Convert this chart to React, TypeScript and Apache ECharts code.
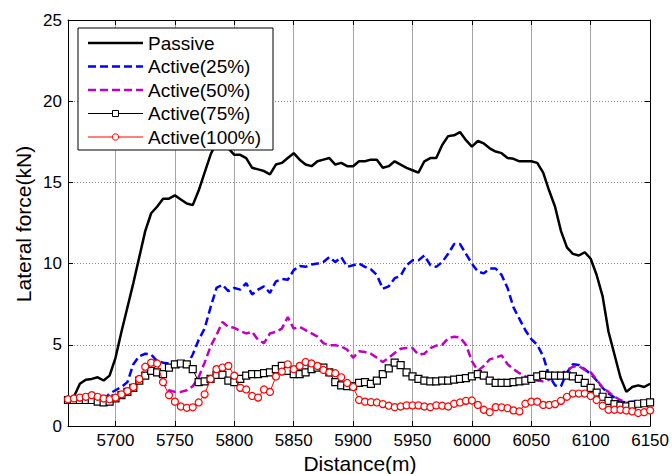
import React, { useEffect, useRef } from "react";
import * as echarts from "echarts";

const distance = [
  5660, 5665, 5670, 5675, 5680, 5685, 5690, 5695, 5700, 5705,
  5710, 5715, 5720, 5725, 5730, 5735, 5740, 5745, 5750, 5755,
  5760, 5765, 5770, 5775, 5780, 5785, 5790, 5795, 5800, 5805,
  5810, 5815, 5820, 5825, 5830, 5835, 5840, 5845, 5850, 5855,
  5860, 5865, 5870, 5875, 5880, 5885, 5890, 5895, 5900, 5905,
  5910, 5915, 5920, 5925, 5930, 5935, 5940, 5945, 5950, 5955,
  5960, 5965, 5970, 5975, 5980, 5985, 5990, 5995, 6000, 6005,
  6010, 6015, 6020, 6025, 6030, 6035, 6040, 6045, 6050, 6055,
  6060, 6065, 6070, 6075, 6080, 6085, 6090, 6095, 6100, 6105,
  6110, 6115, 6120, 6125, 6130, 6135, 6140, 6145, 6150,
];

const passive = [
  1.6, 1.8, 2.6, 2.85, 2.9, 3.0, 2.8, 3.1, 4.2, 5.8,
  7.3, 8.8, 10.4, 12.0, 13.1, 13.5, 14.0, 14.0, 14.2, 13.95,
  13.7, 13.6, 14.5, 15.6, 16.7, 17.5, 17.8, 17.1, 16.7, 16.7,
  16.5, 15.9, 15.8, 15.7, 15.5, 16.1, 16.2, 16.5, 16.8, 16.4,
  16.1, 16.0, 16.3, 16.4, 16.5, 16.1, 16.2, 16.0, 16.0, 16.3,
  16.3, 16.4, 16.4, 15.9, 16.0, 16.3, 16.1, 15.9, 15.75, 15.6,
  16.3, 16.5, 16.5, 17.3, 17.85, 17.9, 18.1, 17.6, 17.2, 17.55,
  17.4, 17.1, 16.9, 16.8, 16.5, 16.45, 16.3, 16.3, 16.3, 16.2,
  15.6, 14.5, 13.5, 12.0, 11.0, 10.6, 10.5, 10.7, 10.3, 9.3,
  8.0, 5.8, 4.4, 3.0, 2.1, 2.4, 2.5, 2.4, 2.6,
];

const active25 = [
  1.6, 1.65, 1.7, 1.7, 1.75, 1.65, 1.6, 2.0, 2.2, 2.4,
  2.7, 3.8, 4.3, 4.45, 4.4, 4.0, 3.9, 3.85, 3.7, 3.6,
  3.7, 4.4, 5.3, 6.0, 7.3, 8.5, 8.7, 8.3, 8.5, 8.4,
  8.8, 8.1, 8.4, 8.6, 8.2, 8.9, 9.05, 9.0, 9.6, 9.85,
  9.8, 9.95, 10.0, 10.1, 10.4, 10.1, 10.4, 9.8, 9.9, 10.0,
  9.8, 9.65, 9.3, 8.45, 8.6, 9.1, 9.25, 9.9, 10.2, 10.2,
  10.5, 9.9, 9.8, 10.1, 10.6, 11.2, 11.2, 10.6, 10.0, 9.5,
  9.4, 9.7, 9.7, 9.3, 8.5, 7.3, 6.6, 5.9, 5.35, 5.0,
  4.3, 3.1, 2.5, 2.45, 3.3, 3.8, 3.75, 3.5, 3.2, 2.8,
  2.35, 2.0, 1.75, 1.5, 1.45, 1.5, 1.5, 1.5, 1.5,
];

const active50 = [
  1.6, 1.65, 1.7, 1.7, 1.75, 1.65, 1.6, 1.6, 1.75, 1.75,
  2.0, 2.35, 2.8, 3.1, 3.3, 3.3, 2.7, 2.2, 2.1, 2.1,
  2.2, 2.45, 3.0, 3.9, 4.9, 5.6, 6.4, 6.1, 6.05, 5.85,
  5.7, 5.8, 5.3, 5.1, 5.7, 5.8, 6.0, 6.7, 6.0, 6.1,
  5.9, 5.7, 5.5, 5.1, 4.97, 4.97, 4.9, 4.7, 4.2, 4.6,
  4.55, 4.45, 4.2, 3.94, 4.2, 4.5, 4.75, 4.8, 4.8, 4.4,
  4.45, 4.8, 4.95, 5.0, 5.4, 5.5, 5.45, 5.0, 4.0, 3.4,
  3.7, 4.1, 4.2, 4.35, 3.8, 3.5, 3.25, 3.05, 2.9, 2.8,
  2.75, 2.85, 3.0, 3.2, 3.45, 3.65, 3.7, 3.45, 3.3, 2.85,
  2.35, 2.1, 1.8, 1.6, 1.45, 1.4, 1.45, 1.45, 1.5,
];

const active75 = [
  1.6, 1.6, 1.6, 1.6, 1.6, 1.5, 1.45, 1.5, 1.7, 1.9,
  2.1, 2.35, 2.8, 3.1, 3.4, 3.3, 3.2, 3.6, 3.8, 3.85,
  3.8, 3.5, 2.7, 2.75, 2.9, 3.15, 3.15, 2.8, 2.7, 2.9,
  3.1, 3.2, 3.2, 3.25, 3.3, 3.5, 3.7, 3.4, 3.2, 3.2,
  3.3, 3.5, 3.6, 3.6, 3.3, 2.7, 2.5, 2.45, 2.45, 2.65,
  2.7, 2.6, 2.8, 3.2, 3.55, 3.9, 3.75, 3.3, 3.05, 2.9,
  2.8, 2.75, 2.75, 2.8, 2.8, 2.85, 2.9, 2.95, 3.05, 3.2,
  3.1, 2.8, 2.65, 2.65, 2.65, 2.7, 2.75, 2.8, 2.9, 3.05,
  3.15, 3.1, 3.1, 3.1, 3.1, 3.05, 2.9, 2.65, 2.35, 2.05,
  1.8, 1.55, 1.35, 1.25, 1.2, 1.3, 1.37, 1.4, 1.45,
];

const active100 = [
  1.65, 1.7, 1.75, 1.8, 1.9, 1.8, 1.7, 1.65, 1.75, 1.95,
  2.15, 2.4, 2.9, 3.65, 3.9, 3.85, 2.7, 1.9, 1.5, 1.2,
  1.12, 1.15, 1.45, 1.95, 2.9, 3.5, 3.6, 3.7, 3.1, 2.35,
  2.25, 1.85, 1.75, 2.25, 2.1, 3.05, 3.35, 3.8, 3.5, 3.7,
  3.94, 3.85, 3.7, 3.45, 3.3, 3.25, 3.0, 2.65, 2.4, 1.6,
  1.5, 1.47, 1.45, 1.35, 1.25, 1.16, 1.2, 1.27, 1.27, 1.27,
  1.2, 1.16, 1.27, 1.25, 1.2, 1.37, 1.45, 1.55, 1.57, 1.3,
  1.0, 0.85, 1.16, 1.15, 1.1, 0.96, 0.9, 1.37, 1.5, 1.5,
  1.3, 1.3, 1.35, 1.55, 1.8, 2.0, 2.0, 2.0, 1.85, 1.6,
  1.25, 1.0, 1.0, 1.0, 0.95, 0.9, 0.8, 0.85, 0.96,
];

const xTicks = [5700, 5750, 5800, 5850, 5900, 5950, 6000, 6050, 6100, 6150];
const seriesNames = ["Passive", "Active(25%)", "Active(50%)", "Active(75%)", "Active(100%)"];
const xTitle = "Distance(m)";
const yTitle = "Lateral force(kN)";

const FONT = "'Liberation Sans', Arial, Helvetica, sans-serif";

export default function App() {
  const ref = useRef<HTMLDivElement>(null);

  useEffect(() => {
    const chart = echarts.init(ref.current as HTMLDivElement, null, { renderer: "svg" });
    const pair = (ys: number[]) => distance.map((x, i) => [x, ys[i]]);

    const legendTop = 28;
    const legendLeft = 78;
    const rowY = (i: number) => 43 + i * 23.5;
    const lx1 = 88;
    const lx2 = 143;
    const legendStyles: any[] = [
      { stroke: "#000000", lineWidth: 2.5 },
      { stroke: "#0000ff", lineWidth: 2.5, lineDash: [8, 4] },
      { stroke: "#bf00bf", lineWidth: 2.5, lineDash: [8, 4] },
      { stroke: "#000000", lineWidth: 1 },
      { stroke: "#ff0000", lineWidth: 1 },
    ];
    const legendEls: any[] = [
      {
        type: "rect",
        shape: { x: legendLeft, y: legendTop, width: 195, height: 122 },
        style: { fill: "#ffffff", stroke: "#000000", lineWidth: 1 },
        z: 100,
      },
    ];
    seriesNames.forEach((name, i) => {
      legendEls.push({
        type: "line",
        shape: { x1: lx1, y1: rowY(i), x2: lx2, y2: rowY(i) },
        style: legendStyles[i],
        z: 101,
      });
      if (i === 3) {
        legendEls.push({
          type: "rect",
          shape: { x: (lx1 + lx2) / 2 - 3, y: rowY(i) - 3, width: 6, height: 6 },
          style: { fill: "#ffffff", stroke: "#000000", lineWidth: 1 },
          z: 102,
        });
      }
      if (i === 4) {
        legendEls.push({
          type: "circle",
          shape: { cx: (lx1 + lx2) / 2, cy: rowY(i), r: 3.2 },
          style: { fill: "#ffffff", stroke: "#ff0000", lineWidth: 1 },
          z: 102,
        });
      }
      legendEls.push({
        type: "text",
        x: 148,
        y: rowY(i),
        style: {
          text: name,
          fill: "#000000",
          fontSize: 19,
          fontFamily: FONT,
          textAlign: "left",
          textVerticalAlign: "middle",
        },
        z: 102,
      });
    });

    const plain = (v: number) => String(v);

    const option: any = {
      animation: false,
      backgroundColor: "#ffffff",
      grid: { left: 68, right: 17, top: 20, bottom: 48, containLabel: false },
      xAxis: [
        {
          type: "value",
          min: 5660,
          max: 6150,
          position: "bottom",
          axisLine: { show: true, onZero: false, lineStyle: { color: "#000000", width: 1 } },
          axisTick: { show: true, inside: true, length: 5, customValues: xTicks, lineStyle: { color: "#000000" } },
          axisLabel: { customValues: xTicks, formatter: plain, fontSize: 17, color: "#000000", fontFamily: FONT, margin: 6 },
          splitLine: { show: true, lineStyle: { color: "#a6a6a6", width: 1 } },
        },
        {
          type: "value",
          min: 5660,
          max: 6150,
          position: "top",
          axisLine: { show: true, onZero: false, lineStyle: { color: "#000000", width: 1 } },
          axisTick: { show: true, inside: true, length: 5, customValues: xTicks, lineStyle: { color: "#000000" } },
          axisLabel: { show: false },
          splitLine: { show: false },
        },
      ],
      yAxis: [
        {
          type: "value",
          min: 0,
          max: 25,
          interval: 5,
          position: "left",
          axisLine: { show: true, onZero: false, lineStyle: { color: "#000000", width: 1 } },
          axisTick: { show: true, inside: true, length: 5, lineStyle: { color: "#000000" } },
          axisLabel: { formatter: plain, fontSize: 17, color: "#000000", fontFamily: FONT, margin: 6 },
          splitLine: { show: true, lineStyle: { color: "#8c8c8c", width: 1, type: [1, 2] } },
        },
        {
          type: "value",
          min: 0,
          max: 25,
          interval: 5,
          position: "right",
          axisLine: { show: true, onZero: false, lineStyle: { color: "#000000", width: 1 } },
          axisTick: { show: true, inside: true, length: 5, lineStyle: { color: "#000000" } },
          axisLabel: { show: false },
          splitLine: { show: false },
        },
      ],
      series: [
        {
          name: seriesNames[0],
          type: "line",
          data: pair(passive),
          showSymbol: false,
          symbol: "none",
          lineStyle: { color: "#000000", width: 2.5 },
          z: 2,
        },
        {
          name: seriesNames[1],
          type: "line",
          data: pair(active25),
          showSymbol: false,
          symbol: "none",
          lineStyle: { color: "#0000ff", width: 2.5, type: [8, 4] },
          z: 3,
        },
        {
          name: seriesNames[2],
          type: "line",
          data: pair(active50),
          showSymbol: false,
          symbol: "none",
          lineStyle: { color: "#bf00bf", width: 2.5, type: [8, 4] },
          z: 4,
        },
        {
          name: seriesNames[3],
          type: "line",
          data: pair(active75),
          showSymbol: true,
          symbol: "rect",
          symbolSize: 7,
          lineStyle: { color: "#000000", width: 1 },
          itemStyle: { color: "#ffffff", borderColor: "#000000", borderWidth: 1.2 },
          z: 5,
        },
        {
          name: seriesNames[4],
          type: "line",
          data: pair(active100),
          showSymbol: true,
          symbol: "circle",
          symbolSize: 7,
          lineStyle: { color: "#ff0000", width: 1 },
          itemStyle: { color: "#ffffff", borderColor: "#ff0000", borderWidth: 1.2 },
          z: 6,
        },
      ],
      graphic: [
        ...legendEls,
        {
          type: "text",
          x: 360,
          y: 463,
          style: {
            text: xTitle,
            fill: "#000000",
            fontSize: 21,
            fontFamily: FONT,
            textAlign: "center",
            textVerticalAlign: "middle",
          },
        },
        {
          type: "text",
          x: 23,
          y: 224,
          rotation: Math.PI / 2,
          style: {
            text: yTitle,
            fill: "#000000",
            fontSize: 21,
            fontFamily: FONT,
            textAlign: "center",
            textVerticalAlign: "middle",
          },
        },
      ],
    };

    chart.setOption(option);
    return () => chart.dispose();
  }, []);

  return (
    <div
      ref={ref}
      style={{ position: "absolute", left: 0, top: 0, width: 672, height: 474, background: "#fff" }}
    />
  );
}
